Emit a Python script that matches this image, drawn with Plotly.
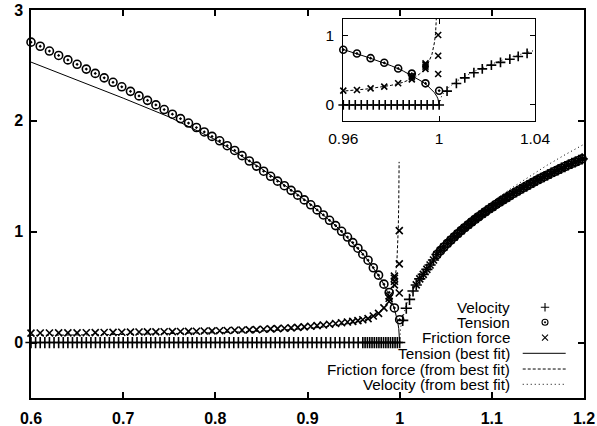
import plotly.graph_objects as go

# ---------------- data ----------------
# Tension (circles), static regime x <= 1
tension_x = [0.600, 0.610, 0.620, 0.630, 0.640, 0.650, 0.660, 0.6697, 0.6794, 0.6890,
             0.6985, 0.7079, 0.7172, 0.7264, 0.7355, 0.7445, 0.7534, 0.7622, 0.7709, 0.7795,
             0.7880, 0.7964, 0.8047, 0.8129, 0.8210, 0.8290, 0.8369, 0.8447, 0.8524, 0.8600,
             0.8675, 0.8749, 0.8822, 0.8894, 0.8965, 0.9035, 0.9104, 0.9172, 0.9239, 0.9305,
             0.9370, 0.9434, 0.9491, 0.9547, 0.9600, 0.9657, 0.9714, 0.9771, 0.9829, 0.9886,
             0.9943, 1.0000]
tension_y = [2.710, 2.673, 2.630, 2.590, 2.550, 2.510, 2.467, 2.428, 2.388, 2.348,
             2.307, 2.266, 2.225, 2.185, 2.144, 2.102, 2.060, 2.020, 1.980, 1.940,
             1.900, 1.860, 1.820, 1.776, 1.733, 1.686, 1.638, 1.592, 1.546, 1.500,
             1.456, 1.415, 1.373, 1.330, 1.287, 1.243, 1.197, 1.151, 1.103, 1.055,
             1.004, 0.952, 0.902, 0.851, 0.797, 0.743, 0.675, 0.608, 0.527, 0.452,
             0.312, 0.206]

# Friction force (x markers)
friction_x = [0.600, 0.610, 0.620, 0.630, 0.640, 0.650, 0.660, 0.6697, 0.6794, 0.6890,
              0.6985, 0.7079, 0.7172, 0.7264, 0.7355, 0.7445, 0.7534, 0.7622, 0.7709, 0.7795,
              0.7880, 0.7964, 0.8047, 0.8129, 0.8210, 0.8290, 0.8369, 0.8447, 0.8524, 0.8600,
              0.8675, 0.8749, 0.8822, 0.8894, 0.8965, 0.9035, 0.9104, 0.9172, 0.9239, 0.9305,
              0.9370, 0.9434, 0.9491, 0.9547, 0.9600, 0.9657, 0.9714, 0.9771, 0.9829, 0.9886,
              0.9943, 0.9886, 0.9886, 0.9943, 0.9943, 0.9943, 0.9996, 0.9996, 0.9996]
friction_y = [0.085, 0.086, 0.086, 0.087, 0.088, 0.088, 0.089, 0.090, 0.091, 0.092,
              0.093, 0.094, 0.095, 0.096, 0.097, 0.098, 0.099, 0.100, 0.101, 0.102,
              0.104, 0.105, 0.107, 0.109, 0.111, 0.113, 0.115, 0.117, 0.120, 0.123,
              0.126, 0.129, 0.133, 0.137, 0.142, 0.147, 0.153, 0.159, 0.165, 0.172,
              0.179, 0.186, 0.191, 0.198, 0.206, 0.216, 0.240, 0.264, 0.313, 0.370,
              0.553, 0.400, 0.420, 0.520, 0.580, 0.600, 0.447, 0.710, 1.010]

# Velocity (+ markers), static part (zero)
velocity_lo_x = [0.600, 0.605, 0.610, 0.615, 0.620, 0.625, 0.630, 0.635, 0.640, 0.645,
                 0.650, 0.655, 0.660, 0.665, 0.670, 0.675, 0.680, 0.685, 0.690, 0.695,
                 0.700, 0.705, 0.710, 0.715, 0.720, 0.725, 0.730, 0.735, 0.740, 0.745,
                 0.750, 0.755, 0.760, 0.765, 0.770, 0.775, 0.780, 0.785, 0.790, 0.795,
                 0.800, 0.805, 0.810, 0.815, 0.820, 0.825, 0.830, 0.835, 0.840, 0.845,
                 0.850, 0.855, 0.860, 0.865, 0.870, 0.875, 0.880, 0.885, 0.890, 0.895,
                 0.900, 0.905, 0.910, 0.915, 0.920, 0.925, 0.930, 0.935, 0.940, 0.945,
                 0.950, 0.955, 0.960, 0.9625, 0.965, 0.9675, 0.970, 0.9725, 0.975, 0.9775,
                 0.980, 0.9825, 0.985, 0.9875, 0.990, 0.9925, 0.995, 0.9975, 1.000]
velocity_lo_y = [0.0, 0.0, 0.0, 0.0, 0.0, 0.0, 0.0, 0.0, 0.0, 0.0,
                 0.0, 0.0, 0.0, 0.0, 0.0, 0.0, 0.0, 0.0, 0.0, 0.0,
                 0.0, 0.0, 0.0, 0.0, 0.0, 0.0, 0.0, 0.0, 0.0, 0.0,
                 0.0, 0.0, 0.0, 0.0, 0.0, 0.0, 0.0, 0.0, 0.0, 0.0,
                 0.0, 0.0, 0.0, 0.0, 0.0, 0.0, 0.0, 0.0, 0.0, 0.0,
                 0.0, 0.0, 0.0, 0.0, 0.0, 0.0, 0.0, 0.0, 0.0, 0.0,
                 0.0, 0.0, 0.0, 0.0, 0.0, 0.0, 0.0, 0.0, 0.0, 0.0,
                 0.0, 0.0, 0.0, 0.0, 0.0, 0.0, 0.0, 0.0, 0.0, 0.0,
                 0.0, 0.0, 0.0, 0.0, 0.0, 0.0, 0.0, 0.0, 0.0]

# Sliding regime x > 1 (velocity; tension and friction coincide with it further out)
sliding_x = [1.0033, 1.0072, 1.0107, 1.0145, 1.0180, 1.0218, 1.0256, 1.0295, 1.0330, 1.0367,
             1.0405, 1.0443, 1.0480, 1.0518, 1.0555, 1.0593, 1.0630, 1.0668, 1.0705, 1.0743,
             1.0780, 1.0818, 1.0855, 1.0893, 1.0930, 1.0968, 1.1005, 1.1043, 1.1080, 1.1118,
             1.1155, 1.1193, 1.1230, 1.1268, 1.1305, 1.1343, 1.1380, 1.1418, 1.1455, 1.1493,
             1.1530, 1.1568, 1.1605, 1.1643, 1.1680, 1.1718, 1.1755, 1.1793, 1.1830, 1.1868,
             1.1905, 1.1943, 1.1980]
sliding_y = [0.200, 0.310, 0.390, 0.465, 0.520, 0.575, 0.615, 0.660, 0.700, 0.745,
             0.794, 0.829, 0.862, 0.894, 0.924, 0.954, 0.982, 1.010, 1.036, 1.062,
             1.087, 1.111, 1.135, 1.158, 1.180, 1.203, 1.223, 1.245, 1.265, 1.285,
             1.304, 1.324, 1.343, 1.361, 1.379, 1.397, 1.414, 1.431, 1.448, 1.465,
             1.481, 1.497, 1.512, 1.528, 1.543, 1.558, 1.573, 1.588, 1.602, 1.616,
             1.629, 1.643, 1.657]
friction_sliding_from = 1.015   # x markers appear on the sliding branch from here
tension_sliding_from = 1.040    # circles appear on the sliding branch from here

# Best-fit curves
tension_fit_x = [0.60, 0.65, 0.70, 0.75, 0.80, 0.85, 0.90, 0.93, 0.95, 0.96, 0.97, 0.98,
                 0.985, 0.99, 0.993, 0.995, 0.997, 0.998, 0.999, 0.9995, 1.0]
tension_fit_y = [2.53, 2.37, 2.205, 2.035, 1.83, 1.57, 1.27, 1.06, 0.89, 0.80, 0.69, 0.566,
                 0.49, 0.40, 0.335, 0.283, 0.219, 0.179, 0.126, 0.089, 0.0]

friction_fit_x = [0.60, 0.70, 0.80, 0.85, 0.90, 0.93, 0.95, 0.96, 0.97, 0.98, 0.985, 0.99,
                  0.993, 0.995, 0.997, 0.998, 0.9985, 0.999, 0.9993, 0.9994]
friction_fit_y = [0.065, 0.073, 0.089, 0.103, 0.126, 0.151, 0.179, 0.20, 0.231, 0.283, 0.327, 0.40,
                  0.478, 0.566, 0.73, 0.894, 1.03, 1.26, 1.45, 1.63]

velocity_fit_x = [1.0, 1.0005, 1.001, 1.002, 1.004, 1.007, 1.01, 1.015, 1.02, 1.03, 1.04,
                  1.05, 1.06, 1.08, 1.10, 1.12, 1.14, 1.16, 1.18, 1.20]
velocity_fit_y = [0.0, 0.089, 0.126, 0.179, 0.253, 0.335, 0.40, 0.49, 0.566, 0.693, 0.80,
                  0.894, 0.98, 1.131, 1.265, 1.386, 1.497, 1.60, 1.697, 1.789]

main_xticks = [0.6, 0.7, 0.8, 0.9, 1.0, 1.1, 1.2]
main_yticks = [0, 1, 2, 3]
inset_xticks = [0.96, 1.0, 1.04]
inset_xticktext = ["0.96", "1", "1.04"]
inset_yticks = [0, 1]

legend_labels = ["Velocity", "Tension", "Friction force", "Tension (best fit)",
                 "Friction force (from best fit)", "Velocity (from best fit)"]

# ---------------- figure ----------------
FONT = "Liberation Sans, Arial, Helvetica, sans-serif"
MAIN_XR = [0.6, 1.2]
MAIN_YR = [-0.5, 3.0]
INS_XR = [0.96, 1.04]
INS_YR = [-0.227, 1.24]

PLUS = dict(symbol="cross-thin-open", size=8, color="black", line=dict(color="black", width=1.6))
CIRC = dict(symbol="circle-open-dot", size=8, color="black", line=dict(color="black", width=1.6))
CROSS = dict(symbol="x-thin-open", size=7, color="black", line=dict(color="black", width=1.6))


def markers(x, y, m, xa="x", ya="y"):
    return go.Scatter(x=x, y=y, mode="markers", marker=m, xaxis=xa, yaxis=ya,
                      cliponaxis=False, showlegend=False, hoverinfo="skip")


def curve(x, y, dash, xa="x", ya="y"):
    return go.Scatter(x=x, y=y, mode="lines", line=dict(color="black", width=1, dash=dash),
                      xaxis=xa, yaxis=ya, showlegend=False, hoverinfo="skip")


def within(x, y, xr, yr):
    xs, ys = [], []
    for a, b in zip(x, y):
        if xr[0] - 1e-9 <= a <= xr[1] + 1e-9 and yr[0] <= b <= yr[1]:
            xs.append(a)
            ys.append(b)
    return xs, ys


def from_x(x, y, x0):
    pairs = [(a, b) for a, b in zip(x, y) if a >= x0]
    return [p[0] for p in pairs], [p[1] for p in pairs]


DASH = "3px,2px"
DOT = "1px,3px"

fr_sx, fr_sy = from_x(sliding_x, sliding_y, friction_sliding_from)
te_sx, te_sy = from_x(sliding_x, sliding_y, tension_sliding_from)

fig = go.Figure()

# main plot
fig.add_trace(markers(velocity_lo_x + sliding_x, velocity_lo_y + sliding_y, PLUS))
fig.add_trace(markers(tension_x + te_sx, tension_y + te_sy, CIRC))
fig.add_trace(markers(friction_x + fr_sx, friction_y + fr_sy, CROSS))
fig.add_trace(curve(tension_fit_x, tension_fit_y, "solid"))
fig.add_trace(curve(friction_fit_x, friction_fit_y, DASH))
fig.add_trace(curve(velocity_fit_x, velocity_fit_y, DOT))

# inset
vx, vy = within(velocity_lo_x + sliding_x, velocity_lo_y + sliding_y, INS_XR, INS_YR)
tx, ty = within(tension_x, tension_y, INS_XR, INS_YR)
fx, fy = within(friction_x, friction_y, INS_XR, INS_YR)
fig.add_trace(markers(vx, vy, dict(PLUS, size=7), "x2", "y2"))
fig.add_trace(markers(tx, ty, dict(CIRC, size=7), "x2", "y2"))
fig.add_trace(markers(fx, fy, dict(CROSS, size=6), "x2", "y2"))
fig.add_trace(curve(tension_fit_x, tension_fit_y, "solid", "x2", "y2"))
fig.add_trace(curve(friction_fit_x, friction_fit_y, DASH, "x2", "y2"))
fig.add_trace(curve(velocity_fit_x, velocity_fit_y, DOT, "x2", "y2"))

# custom legend (text right-aligned, sample on the right, as in gnuplot)
LEG_TEXT_X = 0.8693
LEG_SAMPLE_X = 0.9295
LEG_LINE_X0, LEG_LINE_X1 = 0.8892, 0.9669
LEG_Y = [0.2338, 0.1951, 0.1554, 0.1152, 0.0747, 0.0353]
annotations = []
for lab, yy in zip(legend_labels, LEG_Y):
    annotations.append(dict(text=lab, x=LEG_TEXT_X, y=yy, xref="paper", yref="paper",
                            xanchor="right", yanchor="middle", showarrow=False,
                            font=dict(family=FONT, size=15.3, color="black")))
for m, yy in zip([PLUS, CIRC, CROSS], LEG_Y[:3]):
    fig.add_trace(markers([LEG_SAMPLE_X], [yy], dict(m, size=6, line=dict(color="black", width=1.1)),
                          "x3", "y3"))
shapes = []
for dash, yy in zip(["solid", "dash", "dot"], LEG_Y[3:]):
    d = {"solid": "solid", "dash": DASH, "dot": DOT}[dash]
    shapes.append(dict(type="line", xref="paper", yref="paper", x0=LEG_LINE_X0, x1=LEG_LINE_X1,
                       y0=yy, y1=yy, line=dict(color="black", width=1, dash=d)))

main_axis = dict(showline=True, linecolor="black", linewidth=1.5, mirror="ticks",
                 ticks="inside", ticklen=6, tickwidth=1.5, tickcolor="black",
                 showgrid=False, zeroline=False, automargin=False,
                 tickfont=dict(family=FONT, size=16, color="black", weight="bold"))
inset_axis = dict(showline=True, linecolor="black", linewidth=1, mirror="ticks",
                  ticks="inside", ticklen=5, tickwidth=1, tickcolor="black",
                  showgrid=False, zeroline=False, automargin=False,
                  tickfont=dict(family=FONT, size=15.5, color="black"))

fig.update_layout(
    width=597, height=426, autosize=False,
    margin=dict(l=31, r=13, t=10, b=28),
    paper_bgcolor="white", plot_bgcolor="white",
    showlegend=False,
    xaxis=dict(main_axis, range=MAIN_XR, tickvals=main_xticks, domain=[0, 1], anchor="y",
               ticklabelstandoff=5),
    yaxis=dict(main_axis, range=MAIN_YR, tickvals=main_yticks, domain=[0, 1], anchor="x",
               ticklabelstandoff=3),
    xaxis2=dict(inset_axis, range=INS_XR, tickvals=inset_xticks, ticktext=inset_xticktext,
                domain=[0.5647, 0.9114], anchor="y2", ticklabelstandoff=4),
    yaxis2=dict(inset_axis, range=INS_YR, tickvals=inset_yticks,
                domain=[0.7147, 0.9768], anchor="x2", ticklabelstandoff=5),
    xaxis3=dict(range=[0, 1], overlaying="x", visible=False, anchor="y3", automargin=False),
    yaxis3=dict(range=[0, 1], overlaying="y", visible=False, anchor="x3", automargin=False),
    annotations=annotations,
    shapes=shapes,
    font=dict(family=FONT, color="black"),
)

fig.write_html("out.html", config={"displayModeBar": False},
               post_script="document.body.style.margin='0';document.body.style.overflow='hidden';")
